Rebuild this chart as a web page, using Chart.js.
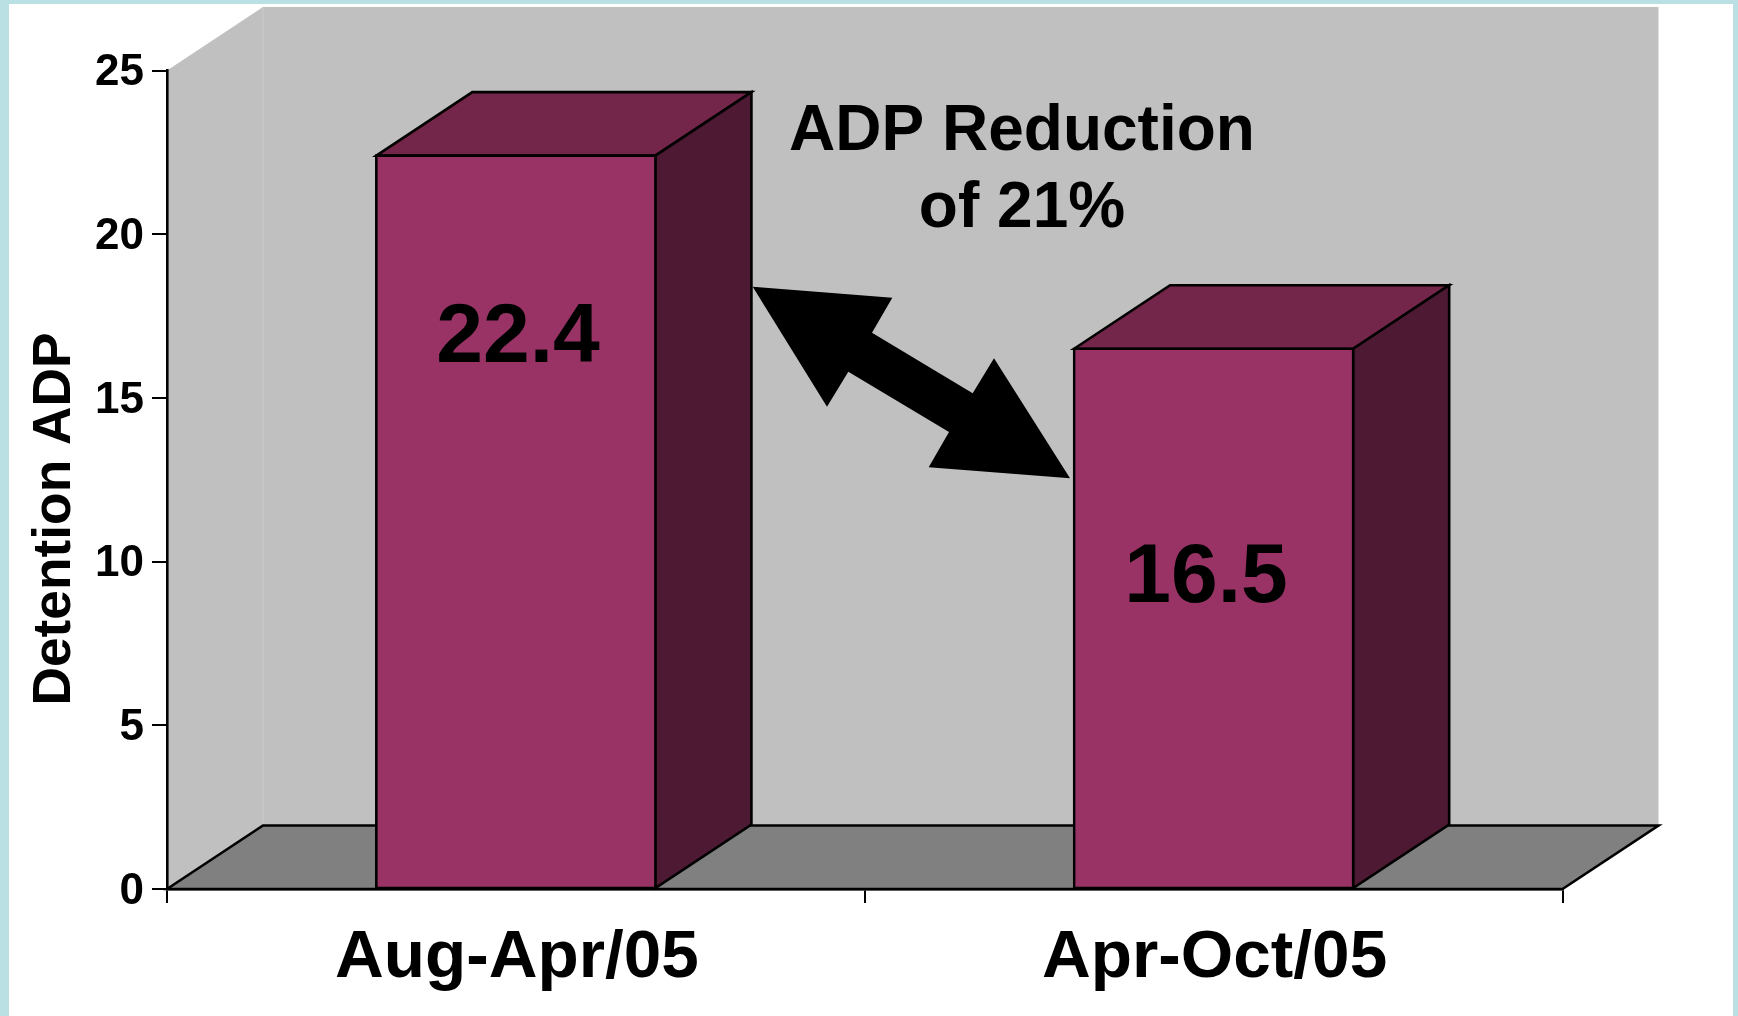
<!DOCTYPE html>
<html>
<head>
<meta charset="utf-8">
<style>
html,body{margin:0;padding:0;width:1738px;height:1016px;overflow:hidden;background:#BBE0E3}
#paper{position:absolute;left:9px;top:4px;width:1724px;height:1012px;background:#fff}
canvas{position:absolute;left:0;top:0}
</style>
<script src="https://cdn.jsdelivr.net/npm/chart.js@4"></script>
</head>
<body>
<div id="paper"></div>
<canvas id="c" width="1738" height="1016"></canvas>
<script>
const categories = ["Aug-Apr/05", "Apr-Oct/05"];
const seriesName = "Detention ADP";
const seriesValues = [22.4, 16.5];
const yTicks = [0, 5, 10, 15, 20, 25];
const noteLines = ["ADP Reduction", "of 21%"];

const FONT = '"Liberation Sans", Arial, sans-serif';
const LINE = 2.6, DX = 96, DY = 63.5;
const arrow = [[752.7,286.7],[892.3,297.7],[872,332.7],[972.7,393.3],[994,358.3],[1070,478.3],[928.7,467.3],[949,432],[848.3,371.7],[827,406.7]];

function poly(ctx, pts, fill, stroke) {
  ctx.beginPath();
  pts.forEach((p, i) => i ? ctx.lineTo(p[0], p[1]) : ctx.moveTo(p[0], p[1]));
  ctx.closePath();
  if (fill) { ctx.fillStyle = fill; ctx.fill(); }
  if (stroke) { ctx.strokeStyle = stroke; ctx.lineWidth = LINE; ctx.lineJoin = 'miter'; ctx.stroke(); }
}

const box3d = {
  id: 'box3d',
  beforeDraw(chart) {
    const {ctx, chartArea: a} = chart;
    const l = a.left, r = a.right, t = a.top, b = a.bottom;
    ctx.save();
    poly(ctx, [[l,t],[l+DX,t-DY],[l+DX,b-DY],[l,b]], '#C0C0C0');
    poly(ctx, [[l+DX,t-DY],[r+DX,t-DY],[r+DX,b-DY],[l+DX,b-DY]], '#C0C0C0');
    ctx.strokeStyle = '#CACACA'; ctx.lineWidth = 1;
    ctx.beginPath(); ctx.moveTo(l+DX, t-DY); ctx.lineTo(l+DX, b-DY); ctx.stroke();
    poly(ctx, [[l,b],[l+DX,b-DY],[r+DX,b-DY],[r,b]], '#808080', '#000');
    ctx.restore();
  },
  beforeDatasetsDraw(chart) {
    const ctx = chart.ctx;
    ctx.save();
    chart.getDatasetMeta(0).data.forEach(bar => {
      const x0 = bar.x - bar.width/2, x1 = bar.x + bar.width/2, y = bar.y, base = bar.base;
      poly(ctx, [[x0,y],[x0+DX,y-DY],[x1+DX,y-DY],[x1,y]], '#732649', '#000');
      poly(ctx, [[x1,y],[x1+DX,y-DY],[x1+DX,base-DY],[x1,base]], '#4D1933', '#000');
    });
    ctx.restore();
  },
  afterDatasetsDraw(chart) {
    const ctx = chart.ctx;
    ctx.save();
    ctx.fillStyle = '#000';
    ctx.textBaseline = 'alphabetic';
    ctx.textAlign = 'center';
    ctx.font = 'bold 84px ' + FONT;
    ctx.fillText(seriesValues[0].toFixed(1), 518, 362);
    ctx.fillText(seriesValues[1].toFixed(1), 1206, 602);
    ctx.font = 'bold 64px ' + FONT;
    ctx.fillText(noteLines[0], 1022, 150);
    ctx.fillText(noteLines[1], 1022, 227);
    poly(ctx, arrow, '#000');
    ctx.translate(70, 519);
    ctx.rotate(-Math.PI/2);
    ctx.font = 'bold 53.3px ' + FONT;
    ctx.fillText(seriesName, 0, 0);
    ctx.restore();
  }
};

new Chart(document.getElementById('c'), {
  type: 'bar',
  data: {
    labels: categories,
    datasets: [{
      label: seriesName,
      data: seriesValues,
      backgroundColor: '#993366',
      borderColor: '#000',
      borderWidth: LINE,
      borderSkipped: false,
      inflateAmount: LINE/2,
      categoryPercentage: 1,
      barPercentage: 0.4
    }]
  },
  options: {
    responsive: false,
    animation: false,
    layout: {padding: {left: 0, top: 70.5, right: 175.5, bottom: 0}},
    plugins: {legend: {display: false}, tooltip: {enabled: false}, title: {display: false}},
    scales: {
      x: {
        afterFit(s) { s.height = 127; },
        grid: {offset: true, drawOnChartArea: false, color: '#000', lineWidth: 2, tickLength: 14},
        border: {color: '#000', width: LINE},
        ticks: {color: '#000', padding: 15, labelOffset: 1, maxRotation: 0, font: {family: FONT, weight: 'bold', size: 67.5}}
      },
      y: {
        min: 0, max: 25,
        afterFit(s) { s.width = 167; },
        afterBuildTicks(s) { s.ticks = yTicks.map(v => ({value: v})); },
        grid: {drawOnChartArea: false, color: '#000', lineWidth: 2, tickLength: 15},
        border: {color: '#000', width: LINE},
        ticks: {color: '#000', padding: 8, labelOffset: 2.5, font: {family: FONT, weight: 'bold', size: 44}}
      }
    }
  },
  plugins: [box3d]
});
</script>
</body>
</html>
